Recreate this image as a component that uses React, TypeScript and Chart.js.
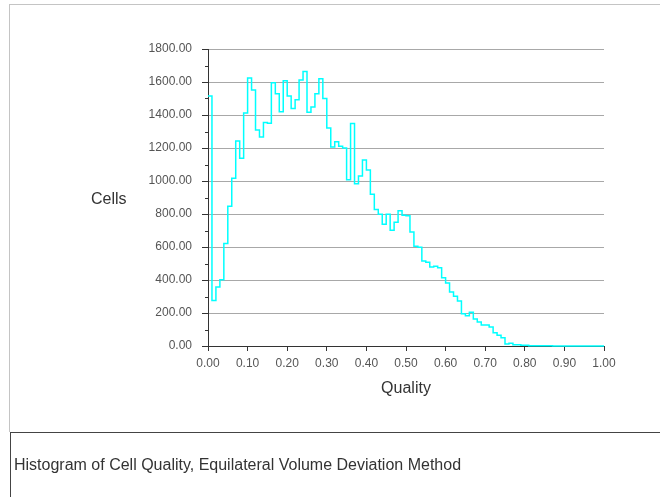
import React, { useEffect, useRef } from "react";
import { Chart, registerables } from "chart.js";

Chart.register(...registerables);

// Histogram of cell quality: counts per bin of width 0.01 from 0.00 to 1.00
const BIN_START = 0;
const BIN_WIDTH = 0.01;
const cellCounts = [
  1515, 276, 357, 402, 621, 847, 1017, 1243, 1138, 1412,
  1624, 1551, 1309, 1267, 1354, 1350, 1596, 1529, 1420, 1608,
  1515, 1440, 1493, 1612, 1664, 1416, 1448, 1529, 1620, 1500,
  1321, 1206, 1238, 1210, 1200, 1008, 1349, 984, 1031, 1127,
  1067, 920, 827, 799, 738, 799, 702, 750, 819, 792,
  790, 691, 605, 598, 515, 507, 479, 483, 475, 414,
  382, 327, 301, 273, 196, 184, 204, 164, 145, 127,
  127, 115, 80, 65, 50, 12, 16, 8, 8, 4,
  4, 2, 2, 1, 1, 1, 1, 0, 0, 0,
  0, 0, 0, 0, 0, 0, 0, 0, 0, 0,
];
const xTickValues = [0, 0.1, 0.2, 0.3, 0.4, 0.5, 0.6, 0.7, 0.8, 0.9, 1.0];
const yTickValues = [0, 200, 400, 600, 800, 1000, 1200, 1400, 1600, 1800];
const yMinorTickValues = [100, 300, 500, 700, 900, 1100, 1300, 1500, 1700];

const xTitle = "Quality";
const yTitle = "Cells";
const caption = "Histogram of Cell Quality, Equilateral Volume Deviation Method";

const FONT = "'Liberation Sans', Arial, Helvetica, sans-serif";

export default function App() {
  const canvasRef = useRef<HTMLCanvasElement | null>(null);

  useEffect(() => {
    const canvas = canvasRef.current;
    if (!canvas) return;

    const points = cellCounts.map((v, i) => ({ x: BIN_START + i * BIN_WIDTH, y: v }));
    points.push({
      x: BIN_START + cellCounts.length * BIN_WIDTH,
      y: cellCounts[cellCounts.length - 1],
    });

    const minorTicks = {
      id: "minorTicks",
      afterDraw(chart: any) {
        const ys = chart.scales.y;
        const ctx = chart.ctx;
        ctx.save();
        ctx.strokeStyle = "#333";
        ctx.lineWidth = 1;
        yMinorTickValues.forEach((v) => {
          const py = Math.round(ys.getPixelForValue(v)) + 0.5;
          ctx.beginPath();
          ctx.moveTo(chart.chartArea.left - 3, py);
          ctx.lineTo(chart.chartArea.left, py);
          ctx.stroke();
        });
        ctx.restore();
      },
    };

    const chart = new Chart(canvas, {
      type: "line",
      data: {
        datasets: [
          {
            data: points,
            borderColor: "#00ffff",
            borderWidth: 1.5,
            pointRadius: 0,
            stepped: "before",
            fill: false,
            clip: 4,
          } as any,
        ],
      },
      options: {
        responsive: false,
        animation: false,
        events: [],
        layout: { padding: { left: 0, top: 49, right: 56, bottom: 99 } },
        plugins: { legend: { display: false }, tooltip: { enabled: false } },
        scales: {
          x: {
            type: "linear",
            min: 0,
            max: 1,
            afterFit(scale: any) {
              scale.height = 52;
            },
            afterBuildTicks(scale: any) {
              scale.ticks = xTickValues.map((v) => ({ value: v }));
            },
            ticks: {
              callback: (v: any) => Number(v).toFixed(2),
              font: { family: FONT, size: 12 },
              color: "#555",
              padding: 5,
              maxRotation: 0,
              autoSkip: false,
            },
            grid: {
              drawOnChartArea: false,
              drawTicks: true,
              tickLength: 5,
              tickColor: "#333",
            },
            border: { display: true, color: "#333", width: 1 },
            title: {
              display: true,
              text: xTitle,
              font: { family: FONT, size: 16 },
              color: "#333",
              padding: { top: 0, bottom: 0 },
            },
          },
          y: {
            type: "linear",
            min: 0,
            max: 1800,
            afterFit(scale: any) {
              scale.width = 208;
            },
            afterBuildTicks(scale: any) {
              scale.ticks = yTickValues.map((v) => ({ value: v }));
            },
            ticks: {
              callback: (v: any) => Number(v).toFixed(2),
              font: { family: FONT, size: 12 },
              color: "#555",
              padding: 10,
              autoSkip: false,
            },
            grid: {
              drawOnChartArea: true,
              drawTicks: true,
              tickLength: 6,
              color: "#a8a8a8",
              tickColor: "#333",
              lineWidth: 1,
            },
            border: { display: true, color: "#333", width: 1 },
          },
        },
      },
      plugins: [minorTicks],
    });

    return () => chart.destroy();
  }, []);

  return (
    <div
      style={{
        position: "fixed",
        left: 0,
        top: 0,
        width: 660,
        height: 497,
        background: "#fff",
        overflow: "hidden",
        fontFamily: FONT,
      }}
    >
      <div
        style={{
          position: "absolute",
          left: 9,
          top: 4,
          width: 660,
          height: 428,
          borderTop: "1px solid #c4c4c4",
          borderLeft: "1px solid #c4c4c4",
          boxSizing: "border-box",
        }}
      />
      <canvas
        ref={canvasRef}
        width={660}
        height={497}
        style={{ position: "absolute", left: 0, top: 0, width: 660, height: 497 }}
      />
      <div
        style={{
          position: "absolute",
          left: 91,
          top: 189,
          fontSize: 16,
          lineHeight: "20px",
          color: "#333",
        }}
      >
        {yTitle}
      </div>
      <div
        style={{
          position: "absolute",
          left: 10,
          top: 432,
          width: 700,
          height: 100,
          borderTop: "1px solid #444",
          borderLeft: "1px solid #444",
          boxSizing: "border-box",
        }}
      >
        <div
          style={{
            position: "absolute",
            left: 3,
            top: 22,
            fontSize: 16,
            lineHeight: "20px",
            color: "#333",
            whiteSpace: "nowrap",
          }}
        >
          {caption}
        </div>
      </div>
    </div>
  );
}
